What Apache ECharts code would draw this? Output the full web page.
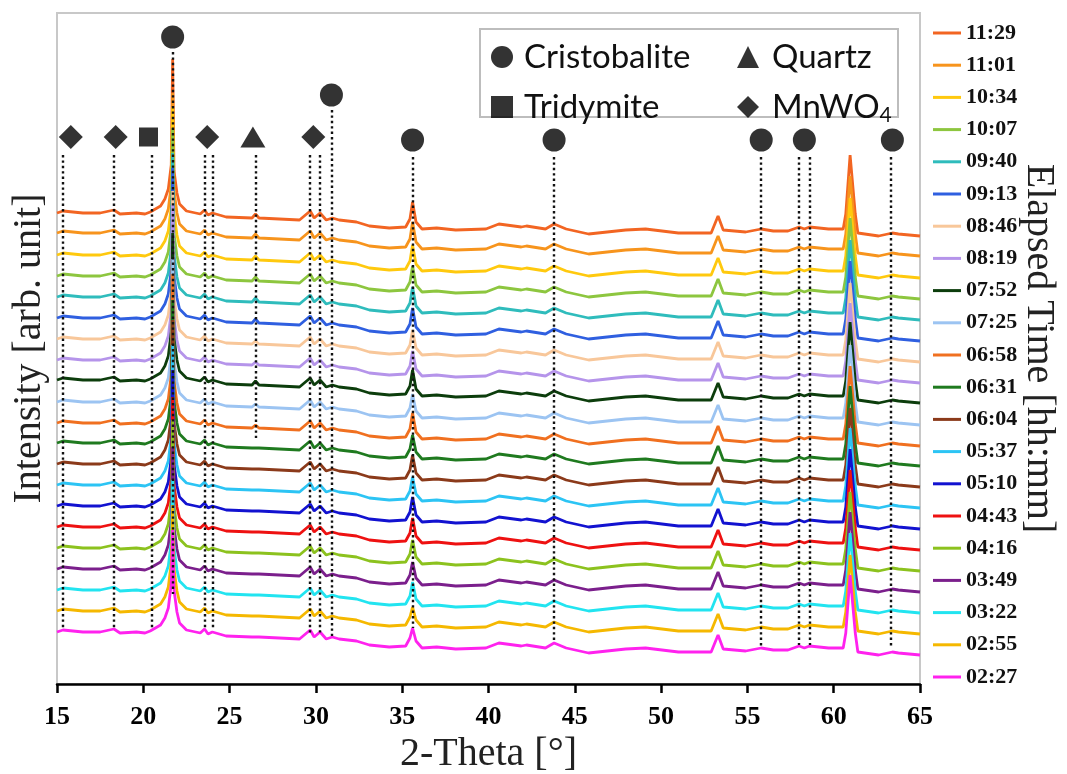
<!DOCTYPE html>
<html>
<head>
<meta charset="utf-8">
<title>In-situ XRD</title>
<script src="https://cdn.jsdelivr.net/npm/echarts@6/dist/echarts.min.js"></script>
<style>
  html, body { margin: 0; padding: 0; background: #fff; }
  #chart { width: 1067px; height: 774px; }
</style>
</head>
<body>
<div id="chart"></div>
<script>
// elapsed time of each scan, top curve first
const times = ["11:29", "11:01", "10:34", "10:07", "09:40", "09:13", "08:46", "08:19", "07:52", "07:25",
  "06:58", "06:31", "06:04", "05:37", "05:10", "04:43", "04:16", "03:49", "03:22", "02:55", "02:27"];
const colors = ["#f26522", "#f7941d", "#ffc90e", "#8dc63f", "#2fbcbc", "#2f5fe0", "#f8c79a", "#b594ea", "#0c3d0c", "#9cc4f2",
  "#f07020", "#1f7a1f", "#8b3a1a", "#2cc4f4", "#1212d0", "#ee1111", "#8cc21e", "#7b1f8c", "#22e4f0", "#f5b800", "#ff22ee"];

// stacking offset of each curve (intensity at 15 deg)
const offsets = [471, 451, 429, 408, 387, 366, 345, 324, 304, 282, 261, 241, 220, 199, 178, 157, 136, 115, 94, 73, 52];
// peak heights that change from scan to scan (relative to each curve's own start)
const peak217 = [154, 140, 148, 148, 144, 150, 148, 155, 147, 143, 149, 143, 144, 140, 136, 130, 128, 122, 110, 106, 102];
const peak356 = [11, 11, 10, 10, 10, 10, 9, 9, 10, 8, 10, 8, 9, 8, 9, 9, 8, 7, 8, 4, 4];
const peak610 = [58, 57, 57, 58, 57, 57, 56, 57, 58, 57, 57, 57, 56, 57, 57, 57, 56, 57, 57, 56, 57];
const quartz265 = [-1, -1, -1, -1, -1, -1, -2, -2, -1, -2, -2, -5, -5, -5, -5, -5, -5, -5, -5, -5, -5];

// common pattern shape
const twoTheta = [15.0, 15.35, 16.5, 17.5, 18.3, 18.65, 19.6, 20.1, 20.4, 21.0, 21.25, 21.45, 21.62, 21.7, 21.78,
  21.95, 22.1, 22.5, 23.3, 23.55, 23.75, 24.0, 24.8, 26.3, 26.5, 26.7, 29.05, 29.67, 29.9, 30.24, 30.6, 30.95,
  31.35, 32.35, 33.1, 34.25, 35.2, 35.45, 35.6, 35.8, 36.15, 37.0, 38.1, 39.85, 40.6, 41.9, 42.2, 43.3, 43.8,
  44.5, 45.8, 47.95, 49.1, 51.0, 52.9, 53.3, 53.6, 54.9, 55.8, 56.5, 57.35, 58.0, 58.3, 58.6, 59.7, 60.55,
  60.7, 60.95, 61.25, 61.4, 62.6, 63.4, 63.75, 65.0];
const shape = [0, 2, 0, 0, 3, -1, 0, -1, 1, 7, 14, 24, 48, null, 42,
  20, 9, 2, -1, 3, -2, 0, -4, -5, null, -5, -7, 2, -5, 0, -7, -5,
  -7, -9, -13, -15, -14, -6, null, -9, -16, -15, -17, -16, -11, -14, -13, -16, -11,
  -16, -21, -17, -16, -20, -20, -3, -17, -19, -16, -18, -18, -14, -16, -14, -16, -16,
  -1, null, -1, -20, -23, -20, -21, -23];

// phase markers [2theta, height]
const cristobaliteMarks = [[21.7, 647], [30.9, 589], [35.6, 544], [43.8, 544], [55.8, 544], [58.3, 544], [63.4, 544]];
const quartzMarks = [[26.35, 547]];
const tridymiteMarks = [[20.3, 547]];
const mnwo4Marks = [[15.8, 547], [18.4, 547], [23.7, 547], [29.85, 547]];

// dotted guide lines [2theta, top, bottom]
const guideLines = [[15.35, 529, 56], [18.3, 529, 56], [20.5, 529, 54], [21.7, 632, 90], [23.55, 529, 54],
  [24.0, 529, 54], [26.5, 529, 246], [29.67, 529, 51], [30.24, 529, 51], [30.94, 574, 48], [35.6, 527, 56],
  [43.8, 527, 42], [55.76, 527, 36], [58.0, 527, 39], [58.6, 527, 39], [63.3, 527, 36]];

const serif = "Liberation Serif";

function curve(i) {
  return twoTheta.map((t, j) => {
    let r = shape[j];
    if (t === 21.7) r = peak217[i];
    if (t === 35.6) r = peak356[i];
    if (t === 60.95) r = peak610[i];
    if (t === 26.5) r = quartz265[i];
    return [t, offsets[i] + r];
  });
}

const chart = echarts.init(document.getElementById("chart"));

const xrdSeries = times.map((name, i) => ({
  name,
  type: "line",
  data: curve(i),
  showSymbol: false,
  symbol: "none",
  lineStyle: { color: colors[i], width: 2.8 },
  itemStyle: { color: colors[i] },
  z: 2,
}));

const phaseSeries = [
  { name: "Cristobalite", symbol: "circle", symbolSize: 23, data: cristobaliteMarks },
  { name: "Quartz", symbol: "triangle", symbolSize: [25, 21], data: quartzMarks },
  { name: "Tridymite", symbol: "rect", symbolSize: 19, data: tridymiteMarks },
  { name: "MnWO4", symbol: "diamond", symbolSize: [24, 24], data: mnwo4Marks },
].map((s) => ({
  ...s,
  type: "scatter",
  itemStyle: { color: "#000" },
  z: 5,
}));

// guide lines hang on the first phase series
phaseSeries[0].markLine = {
  silent: true,
  symbol: "none",
  label: { show: false },
  lineStyle: { color: "#111", width: 2.4, type: [2.4, 3] },
  data: guideLines.map((g) => [{ coord: [g[0], g[1]] }, { coord: [g[0], g[2]] }]),
};

const titleStyle = { fontFamily: serif, fontSize: 40, color: "#222" };

const options = {
  animation: false,
  grid: {
    left: 57, right: 147, top: 13, bottom: 90,
    outerBoundsMode: "none",
    show: true, borderColor: "#c8c8c8", borderWidth: 2,
  },
  xAxis: {
    type: "value",
    min: 15, max: 65, interval: 5,
    name: "2-Theta [°]",
    nameLocation: "middle",
    nameGap: 50,
    nameTextStyle: titleStyle,
    axisLine: { onZero: false, lineStyle: { color: "#000", width: 2.5 } },
    axisTick: { length: 9, lineStyle: { color: "#000", width: 2.5 } },
    axisLabel: { fontFamily: serif, fontWeight: "bold", fontSize: 26, color: "#000", margin: 20 },
    splitLine: { show: false },
  },
  yAxis: [
    {
      type: "value",
      min: 0, max: 671,
      name: "Intensity [arb. unit]",
      nameLocation: "middle",
      nameRotate: 90,
      nameGap: 8,
      nameTextStyle: titleStyle,
      axisLine: { show: false },
      axisTick: { show: false },
      axisLabel: { show: false },
      splitLine: { show: false },
    },
    {
      type: "value",
      position: "right",
      min: 0, max: 671,
      name: "Elapsed Time [hh:mm]",
      nameLocation: "middle",
      nameRotate: -90,
      nameGap: 98,
      nameTextStyle: titleStyle,
      axisLine: { show: false },
      axisTick: { show: false },
      axisLabel: { show: false },
      splitLine: { show: false },
    },
  ],
  legend: [
    {
      data: times,
      orient: "vertical",
      left: 928, top: 17,
      itemWidth: 28, itemHeight: 3, itemGap: 10.2,
      icon: "rect",
      selectedMode: false,
      textStyle: { fontFamily: serif, fontWeight: "bold", fontSize: 22, lineHeight: 22, color: "#111" },
    },
    {
      data: ["Cristobalite", "Tridymite"],
      orient: "vertical",
      left: 486, top: 35,
      itemWidth: 22, itemHeight: 22, itemGap: 16,
      selectedMode: false,
      textStyle: { fontFamily: "Lato", fontSize: 33, lineHeight: 34, color: "#111", padding: [0, 0, 0, 6] },
    },
    {
      data: ["Quartz", "MnWO4"],
      orient: "vertical",
      left: 732, top: 35,
      itemWidth: 22, itemHeight: 22, itemGap: 16,
      selectedMode: false,
      formatter: (name) => (name === "MnWO4" ? "MnWO{sub|4}" : name),
      textStyle: {
        fontFamily: "Lato", fontSize: 33, lineHeight: 34, color: "#111", padding: [0, 0, 0, 8],
        rich: { sub: { fontFamily: "Lato", fontSize: 21, color: "#111", padding: [16, 0, 0, 0] } },
      },
    },
  ],
  graphic: [
    {
      type: "rect",
      shape: { x: 480, y: 29, width: 418, height: 88 },
      style: { fill: "none", stroke: "#bdbdbd", lineWidth: 2 },
      silent: true,
    },
  ],
  series: [...xrdSeries, ...phaseSeries],
};

chart.setOption(options);
</script>
</body>
</html>
